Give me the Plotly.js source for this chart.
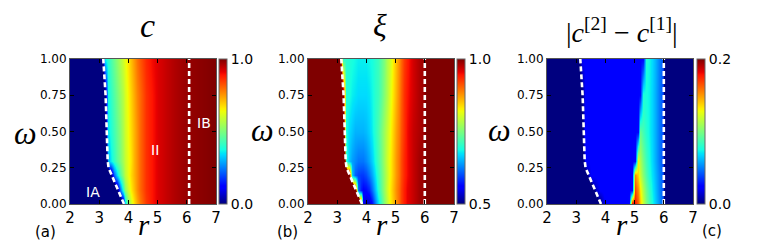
<!DOCTYPE html>
<html>
<head>
<meta charset="utf-8">
<script src="https://cdn.plot.ly/plotly-3.0.1.min.js"></script>
<style>html,body{margin:0;padding:0;background:#fff;}#plot{width:763px;height:243px;}</style>
</head>
<body>
<div id="plot"></div>
<script>
// ---------------- data ----------------
// phase boundary (white dashed curve between IA and II), shared by the three panels
const boundaryOmega = [0, 0.05, 0.12, 0.19, 0.25, 0.3, 0.5, 0.75, 1.0];
const boundaryR     = [3.85, 3.74, 3.6, 3.43, 3.32, 3.29, 3.26, 3.22, 3.14];
// vertical boundary II / IB in each panel
const rIB = [6.08, 6.0, 6.0];

// panel (a): c
const omegaA = [0, 0.1, 0.2, 0.3, 0.5, 0.75, 1.0];
const rA = [2.0, 3.1, 3.2, 3.3, 3.4, 3.5, 3.6, 3.7, 3.8, 3.9, 4.0, 4.1, 4.2, 4.3, 4.4, 4.6, 4.8, 5.0, 5.3, 5.6, 6.0, 6.5, 7.0];
const cA = [
  [0, 0, 0, 0, 0, 0, 0, 0, 0, 0.32, 0.5, 0.6, 0.67, 0.73, 0.78, 0.85, 0.89, 0.92, 0.94, 0.96, 0.98, 0.99, 1.0],
  [0, 0, 0, 0, 0, 0, 0, 0.22, 0.4, 0.52, 0.6, 0.66, 0.71, 0.76, 0.8, 0.86, 0.89, 0.92, 0.94, 0.96, 0.98, 0.99, 1.0],
  [0, 0, 0, 0, 0, 0.22, 0.34, 0.44, 0.52, 0.58, 0.63, 0.68, 0.72, 0.76, 0.8, 0.86, 0.89, 0.92, 0.94, 0.96, 0.98, 0.99, 1.0],
  [0, 0, 0, 0.3, 0.36, 0.41, 0.46, 0.5, 0.55, 0.59, 0.63, 0.67, 0.72, 0.76, 0.8, 0.86, 0.89, 0.92, 0.94, 0.96, 0.98, 0.99, 1.0],
  [0, 0, 0, 0.35, 0.39, 0.43, 0.47, 0.51, 0.56, 0.6, 0.64, 0.68, 0.72, 0.76, 0.8, 0.86, 0.89, 0.92, 0.94, 0.96, 0.98, 0.99, 1.0],
  [0, 0, 0, 0.37, 0.41, 0.45, 0.49, 0.53, 0.57, 0.61, 0.65, 0.69, 0.73, 0.77, 0.8, 0.86, 0.89, 0.92, 0.94, 0.96, 0.98, 0.99, 1.0],
  [0, 0, 0.36, 0.4, 0.44, 0.48, 0.52, 0.56, 0.6, 0.63, 0.67, 0.71, 0.75, 0.79, 0.82, 0.87, 0.9, 0.92, 0.94, 0.96, 0.98, 0.99, 1.0]
];

// panel (b): xi
const omegaB = [0, 0.1, 0.2, 0.3, 0.5, 0.75, 1.0];
const rB = [2.0, 3.1, 3.2, 3.3, 3.4, 3.5, 3.6, 3.7, 3.8, 3.9, 4.0, 4.1, 4.2, 4.3, 4.4, 4.5, 4.6, 4.7, 4.8, 4.9, 5.0, 5.1, 5.2, 5.3, 5.4, 5.6, 5.8, 6.0, 6.1, 7.0];
const xiB = [
  [1, 1, 1, 1, 1, 1, 1, 1, 1, 0.55, 0.525, 0.53, 0.565, 0.62, 0.67, 0.71, 0.755, 0.79, 0.825, 0.85, 0.875, 0.9, 0.92, 0.94, 0.955, 0.97, 0.985, 0.99, 1, 1],
  [1, 1, 1, 1, 1, 1, 1, 0.62, 0.575, 0.56, 0.565, 0.58, 0.615, 0.655, 0.695, 0.73, 0.765, 0.8, 0.83, 0.855, 0.88, 0.9, 0.92, 0.94, 0.955, 0.97, 0.985, 0.99, 1, 1],
  [1, 1, 1, 1, 1, 0.66, 0.61, 0.595, 0.59, 0.59, 0.6, 0.62, 0.645, 0.675, 0.705, 0.735, 0.765, 0.795, 0.825, 0.85, 0.875, 0.895, 0.915, 0.935, 0.95, 0.97, 0.985, 0.99, 1, 1],
  [1, 1, 1, 0.7, 0.66, 0.64, 0.63, 0.62, 0.62, 0.62, 0.63, 0.645, 0.665, 0.69, 0.715, 0.74, 0.77, 0.8, 0.825, 0.85, 0.875, 0.895, 0.915, 0.935, 0.95, 0.97, 0.985, 0.99, 1, 1],
  [1, 1, 1, 0.69, 0.67, 0.66, 0.65, 0.65, 0.65, 0.65, 0.655, 0.665, 0.68, 0.7, 0.72, 0.745, 0.77, 0.795, 0.82, 0.845, 0.87, 0.89, 0.91, 0.93, 0.95, 0.97, 0.98, 0.99, 1, 1],
  [1, 1, 1, 0.69, 0.69, 0.68, 0.675, 0.67, 0.67, 0.67, 0.67, 0.675, 0.685, 0.7, 0.71, 0.73, 0.755, 0.78, 0.81, 0.835, 0.86, 0.885, 0.905, 0.93, 0.945, 0.965, 0.98, 0.99, 1, 1],
  [1, 1, 0.7, 0.7, 0.695, 0.69, 0.685, 0.68, 0.68, 0.68, 0.68, 0.685, 0.69, 0.7, 0.71, 0.73, 0.75, 0.78, 0.8, 0.83, 0.855, 0.88, 0.9, 0.925, 0.94, 0.965, 0.98, 0.99, 1, 1]
];

// panel (c): |c[2] - c[1]|
const omegaC = [0, 0.1, 0.2, 0.3, 0.5, 0.75, 1.0];
const rC = [2.0, 3.1, 3.2, 3.3, 3.5, 3.8, 4.0, 4.3, 4.6, 4.8, 4.9, 5.0, 5.1, 5.2, 5.3, 5.4, 5.5, 5.6, 5.7, 5.8, 5.9, 6.0, 6.1, 7.0];
const dC = [
  [0, 0, 0, 0, 0, 0, 0.024, 0.025, 0.024, 0.026, 0.188, 0.178, 0.162, 0.14, 0.118, 0.1, 0.087, 0.076, 0.066, 0.057, 0.048, 0.039, 0, 0],
  [0, 0, 0, 0, 0, 0.023, 0.024, 0.025, 0.024, 0.025, 0.026, 0.168, 0.152, 0.132, 0.112, 0.096, 0.084, 0.073, 0.064, 0.055, 0.046, 0.038, 0, 0],
  [0, 0, 0, 0, 0.023, 0.024, 0.024, 0.025, 0.024, 0.025, 0.025, 0.152, 0.136, 0.118, 0.102, 0.089, 0.078, 0.07, 0.062, 0.054, 0.046, 0.037, 0, 0],
  [0, 0, 0, 0.021, 0.023, 0.024, 0.025, 0.024, 0.025, 0.024, 0.025, 0.026, 0.13, 0.112, 0.097, 0.085, 0.076, 0.068, 0.06, 0.052, 0.044, 0.036, 0, 0],
  [0, 0, 0, 0.022, 0.024, 0.023, 0.025, 0.024, 0.025, 0.024, 0.025, 0.025, 0.026, 0.095, 0.086, 0.079, 0.073, 0.067, 0.06, 0.052, 0.044, 0.036, 0, 0],
  [0, 0, 0, 0.022, 0.023, 0.024, 0.023, 0.025, 0.024, 0.024, 0.025, 0.024, 0.025, 0.026, 0.077, 0.076, 0.073, 0.067, 0.06, 0.052, 0.044, 0.036, 0, 0],
  [0, 0, 0.022, 0.023, 0.024, 0.023, 0.024, 0.025, 0.024, 0.024, 0.025, 0.024, 0.025, 0.025, 0.026, 0.077, 0.074, 0.068, 0.061, 0.053, 0.045, 0.036, 0, 0]
];

// axis ticks and labels
const xTicks = [2, 3, 4, 5, 6, 7];
const yTicks = [0, 0.25, 0.5, 0.75, 1.0];
const yTickText = ['0.00', '0.25', '0.50', '0.75', '1.00'];
const zRanges = [[0, 1], [0.5, 1], [0, 0.2]];
const cbTickText = [['0.0', '1.0'], ['0.5', '1.0'], ['0.0', '0.2']];
const regionLabels = [{t: 'IA', r: 2.78, w: 0.08}, {t: 'II', r: 4.9, w: 0.37}, {t: 'IB', r: 6.58, w: 0.56}];

// ---------------- styling ----------------
const W = 763, H = 243;
const jet = [
  [0, '#00007F'], [0.11, '#0000FF'], [0.125, '#0000FF'], [0.34, '#00DBFF'], [0.35, '#00E5F7'],
  [0.375, '#14FFE2'], [0.64, '#EFFF08'], [0.65, '#F7F600'], [0.66, '#FFEC00'], [0.89, '#FF1300'],
  [0.91, '#E80000'], [1, '#7F0000']
];
const LOW = '#00007F', HIGH = '#7F0000';
const px = x => x / W, py = y => 1 - y / H;
const plotLeft = [70, 308, 547], plotW = 146;
const plotTop = 59, plotBot = 204;
const cbLeft = [219, 457, 697];

const panels = [
  {r: rA, w: omegaA, z: cA, outL: LOW, outR: null},
  {r: rB, w: omegaB, z: xiB, outL: HIGH, outR: HIGH},
  {r: rC, w: omegaC, z: dC, outL: LOW, outR: LOW}
];

const traces = [];
const layout = {
  width: W, height: H, margin: {l: 0, r: 0, t: 0, b: 0},
  paper_bgcolor: '#fff', plot_bgcolor: '#fff', showlegend: false,
  font: {family: 'DejaVu Sans', color: '#000'},
  annotations: []
};

panels.forEach((p, i) => {
  const xa = i === 0 ? 'x' : 'x' + (i + 1);
  const ya = i === 0 ? 'y' : 'y' + (i + 1);
  const xk = i === 0 ? 'xaxis' : 'xaxis' + (i + 1);
  const yk = i === 0 ? 'yaxis' : 'yaxis' + (i + 1);
  const [zmin, zmax] = zRanges[i];
  traces.push({
    type: 'heatmap', x: p.r, y: p.w, z: p.z, xaxis: xa, yaxis: ya,
    zmin: zmin, zmax: zmax, zsmooth: 'best', colorscale: jet, hoverinfo: 'skip',
    colorbar: {
      x: px(cbLeft[i]), xanchor: 'left', xref: 'paper', y: py((plotTop + plotBot) / 2), yanchor: 'middle',
      len: plotBot - plotTop, lenmode: 'pixels', thickness: 8, thicknessmode: 'pixels',
      xpad: 0, ypad: 0, outlinewidth: 1, outlinecolor: '#666', borderwidth: 0,
      tickmode: 'array', tickvals: [zmin, zmax], ticktext: cbTickText[i], ticks: '',
      tickfont: {family: 'DejaVu Sans', size: 14, color: '#000'}
    }
  });
  // outside region left of the dashed boundary (uniform colour)
  traces.push({
    type: 'scatter', mode: 'lines', xaxis: xa, yaxis: ya, hoverinfo: 'skip',
    x: [xTicks[0]].concat(boundaryR, [xTicks[0]]),
    y: [boundaryOmega[0]].concat(boundaryOmega, [boundaryOmega[boundaryOmega.length - 1]]),
    fill: 'toself', fillcolor: p.outL, line: {width: 0, color: p.outL}
  });
  if (p.outR) {
    const xe = xTicks[xTicks.length - 1];
    traces.push({
      type: 'scatter', mode: 'lines', xaxis: xa, yaxis: ya, hoverinfo: 'skip',
      x: [rIB[i], xe, xe, rIB[i]], y: [0, 0, 1, 1],
      fill: 'toself', fillcolor: p.outR, line: {width: 0, color: p.outR}
    });
  }
  // dashed boundaries
  traces.push({
    type: 'scatter', mode: 'lines', xaxis: xa, yaxis: ya, hoverinfo: 'skip',
    x: boundaryR, y: boundaryOmega, line: {color: '#fff', width: 2.6, dash: '5px,3px'}
  });
  traces.push({
    type: 'scatter', mode: 'lines', xaxis: xa, yaxis: ya, hoverinfo: 'skip',
    x: [rIB[i], rIB[i]], y: [0, 1], line: {color: '#fff', width: 2.6, dash: '5px,3px'}
  });

  layout[xk] = {
    domain: [px(plotLeft[i]), px(plotLeft[i] + plotW)], anchor: ya, range: [2, 7],
    tickmode: 'array', tickvals: xTicks, ticktext: xTicks.map(String),
    ticks: 'inside', ticklen: 4, tickcolor: '#000', showgrid: false, zeroline: false,
    showline: true, linecolor: '#555', linewidth: 1, mirror: 'ticks',
    tickfont: {family: 'DejaVu Sans', size: 15, color: '#000'}
  };
  layout[yk] = {
    domain: [py(plotBot), py(plotTop)], anchor: xa, range: [0, 1],
    tickmode: 'array', tickvals: yTicks, ticktext: yTickText,
    ticks: 'inside', ticklen: 4, tickcolor: '#000', showgrid: false, zeroline: false,
    showline: true, linecolor: '#555', linewidth: 1, mirror: 'ticks',
    tickfont: {family: 'DejaVu Sans', size: 12, color: '#000'}
  };
});

// region labels in panel (a)
regionLabels.forEach(l => {
  layout.annotations.push({xref: 'x', yref: 'y', x: l.r, y: l.w, text: l.t, showarrow: false,
    font: {family: 'DejaVu Sans', size: 14, color: '#fff'}});
});

const serif = 'Liberation Serif';
const titles = [
  {t: '<i>c</i>', x: 147, y: 26, s: 34},
  {t: '<i>ξ</i>', x: 380, y: 25, s: 32},
  {t: '|<i>c</i><sup>[2]</sup> − <i>c</i><sup>[1]</sup>|', x: 622, y: 31, s: 28}
];
titles.forEach(o => layout.annotations.push({xref: 'paper', yref: 'paper', x: px(o.x), y: py(o.y),
  xanchor: 'center', yanchor: 'middle', text: o.t, showarrow: false, font: {family: serif, size: o.s, color: '#000'}}));

const omegaLab = [[25, 133], [262, 130], [499, 130]];
const rLab = [144, 382, 622];
omegaLab.forEach(p => layout.annotations.push({xref: 'paper', yref: 'paper', x: px(p[0]), y: py(p[1]),
  xanchor: 'center', yanchor: 'middle', text: '<i>ω</i>', showarrow: false, font: {family: serif, size: 32, color: '#000'}}));
rLab.forEach(x => layout.annotations.push({xref: 'paper', yref: 'paper', x: px(x), y: 0,
  xanchor: 'center', yanchor: 'bottom', text: '<i>r</i>', showarrow: false, font: {family: serif, size: 29, color: '#000'}}));

const panelLab = [['(a)', 45, 232], ['(b)', 287, 232], ['(c)', 712, 231]];
panelLab.forEach(p => layout.annotations.push({xref: 'paper', yref: 'paper', x: px(p[1]), y: py(p[2]),
  xanchor: 'center', yanchor: 'middle', text: p[0], showarrow: false, font: {family: 'DejaVu Sans', size: 15, color: '#000'}}));

Plotly.newPlot('plot', traces, layout, {staticPlot: true, displayModeBar: false});
</script>
</body>
</html>
